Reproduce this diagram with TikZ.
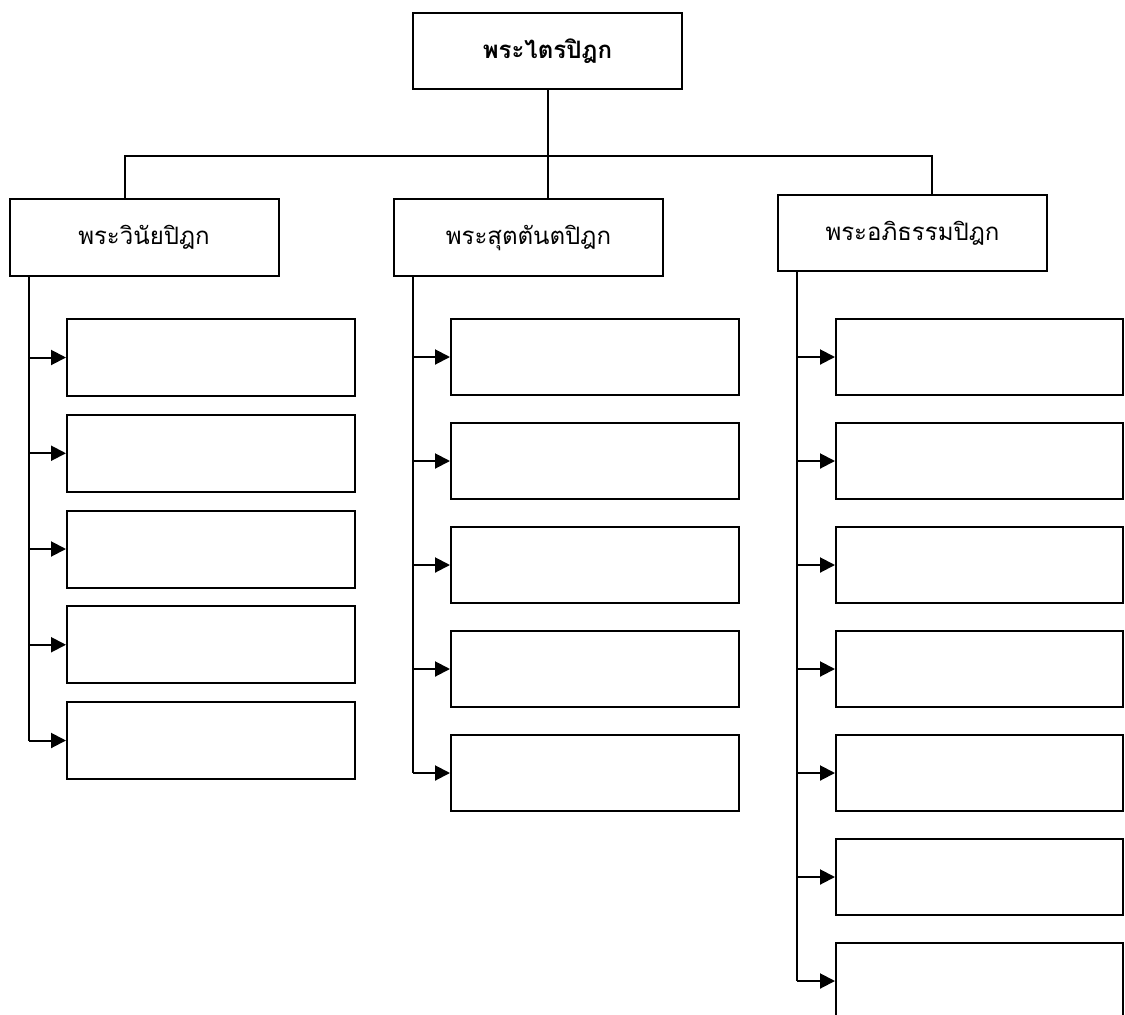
\documentclass[tikz,border=0pt]{standalone}
\usepackage{fontspec}
\newfontfamily\thaifont[Script=Thai]{Loma}
\usetikzlibrary{arrows.meta}
\begin{document}
\begin{tikzpicture}[x=1pt,y=-1pt,
  line width=2pt,
  head/.style={draw, rectangle, line width=2pt, minimum width=269pt, minimum height=77pt, inner sep=0pt, font=\thaifont\fontsize{24}{28}\selectfont},
  leaf/.style={draw, rectangle, line width=2pt, minimum width=288pt, minimum height=77pt, inner sep=0pt},
  link/.style={-{Triangle[length=15pt,width=15pt]}},
  wire/.style={line width=2pt}]
\useasboundingbox (0,0) rectangle (1125,1015);
% heads
\node[head, minimum height=76pt, font=\thaifont\bfseries\fontsize{24}{28}\selectfont] (top) at (547.5,51) {พระไตรปิฎก};
\node[head] (L) at (144,237.5) {พระวินัยปิฎก};
\node[head] (M) at (528.5,237.5) {พระสุตตันตปิฎก};
\node[head, minimum height=76pt] (R) at (912.5,233) {พระอภิธรรมปิฎก};
% bar
\coordinate (barL) at (125,156);
\coordinate (barR) at (932,156);
\draw[wire] (top.south) -- (top.south |- M.north);
\draw[wire] (barL |- L.north) -- (barL) -- (barR) -- (barR |- R.north);
% left column
\foreach \i in {1,...,5} {
  \node[leaf] (l\i) at (211,{357.5+(\i-1)*95.75}) {};
}
\coordinate (tL) at (29,0);
\draw[wire] (tL |- L.south) -- (tL |- l5.west);
\foreach \i in {1,...,5} { \draw[wire,link] (tL |- l\i.west) -- (l\i.west); }
% middle column
\foreach \i in {1,...,5} {
  \node[leaf, minimum height=76pt] (m\i) at (595,{357+(\i-1)*104}) {};
}
\coordinate (tM) at (413,0);
\draw[wire] (tM |- M.south) -- (tM |- m5.west);
\foreach \i in {1,...,5} { \draw[wire,link] (tM |- m\i.west) -- (m\i.west); }
% right column
\foreach \i in {1,...,7} {
  \node[leaf, minimum width=287pt, minimum height=76pt] (r\i) at (979.5,{357+(\i-1)*104}) {};
}
\coordinate (tR) at (797,0);
\draw[wire] (tR |- R.south) -- (tR |- r7.west);
\foreach \i in {1,...,7} { \draw[wire,link] (tR |- r\i.west) -- (r\i.west); }
\end{tikzpicture}
\end{document}
